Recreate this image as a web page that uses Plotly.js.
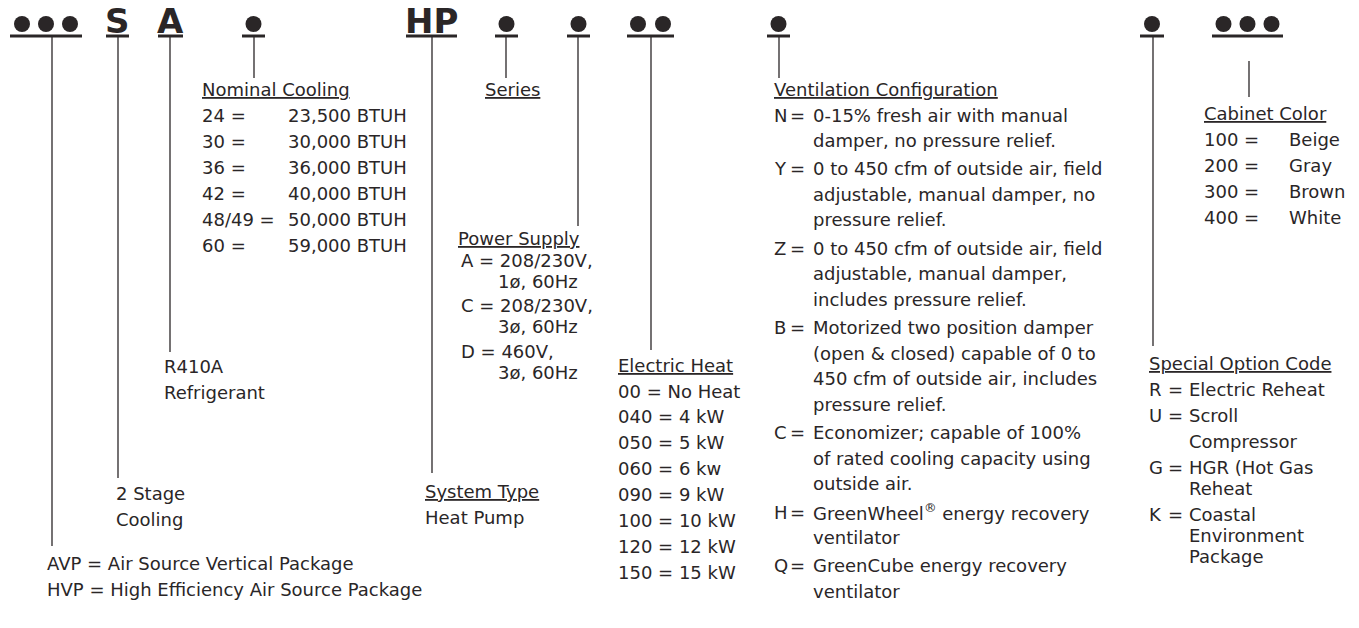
<!DOCTYPE html>
<html>
<head>
<meta charset="utf-8">
<script src="https://cdn.plot.ly/plotly-3.0.1.min.js"></script>
<style>html,body{margin:0;padding:0;background:#fff;}#chart{width:1359px;height:628px;}</style>
</head>
<body>
<div id="chart"></div>
<script>
// ---------- DATA ----------
const headerCodes = ['●●●', 'S', 'A', '●', 'HP', '●', '●', '●●', '●', '●', '●●●'];

const nominalTitle = 'Nominal Cooling';
const nominalCodes = ['24 =', '30 =', '36 =', '42 =', '48/49 =', '60 ='];
const nominalValues = ['23,500 BTUH', '30,000 BTUH', '36,000 BTUH', '40,000 BTUH', '50,000 BTUH', '59,000 BTUH'];

const seriesTitle = 'Series';

const powerTitle = 'Power Supply';
const powerCodes = ['A = 208/230V,', 'C = 208/230V,', 'D = 460V,'];
const powerCont = ['1ø, 60Hz', '3ø, 60Hz', '3ø, 60Hz'];

const refrigerantText = ['R410A', 'Refrigerant'];
const stageText = ['2 Stage', 'Cooling'];
const seriesPrefix = ['AVP = Air Source Vertical Package', 'HVP = High Efficiency Air Source Package'];

const systemTitle = 'System Type';
const systemValue = 'Heat Pump';

const heatTitle = 'Electric Heat';
const heatRows = ['00 = No Heat', '040 = 4 kW', '050 = 5 kW', '060 = 6 kw', '090 = 9 kW', '100 = 10 kW', '120 = 12 kW', '150 = 15 kW'];

const ventTitle = 'Ventilation Configuration';
const ventCodes = ['N', 'Y', 'Z', 'B', 'C', 'H', 'Q'];
const ventDesc = [
  ['0-15% fresh air with manual', 'damper, no pressure relief.'],
  ['0 to 450 cfm of outside air, field', 'adjustable, manual damper, no', 'pressure relief.'],
  ['0 to 450 cfm of outside air, field', 'adjustable, manual damper,', 'includes pressure relief.'],
  ['Motorized two position damper', '(open & closed) capable of 0 to', '450 cfm of outside air, includes', 'pressure relief.'],
  ['Economizer; capable of 100%', 'of rated cooling capacity using', 'outside air.'],
  ['GreenWheel<sup>®</sup> energy recovery', 'ventilator'],
  ['GreenCube energy recovery', 'ventilator']
];

const cabinetTitle = 'Cabinet Color';
const cabinetCodes = ['100 =', '200 =', '300 =', '400 ='];
const cabinetValues = ['Beige', 'Gray', 'Brown', 'White'];

const specialTitle = 'Special Option Code';
const specialCodes = ['R', 'U', 'G', 'K'];
const specialDesc = [
  ['Electric Reheat'],
  ['Scroll', 'Compressor'],
  ['HGR (Hot Gas', 'Reheat'],
  ['Coastal', 'Environment', 'Package']
];

// ---------- LAYOUT (positions / styles) ----------
const INK = '#2a2627';
const FONT = 'DejaVu Sans, Verdana, sans-serif';
const FS = 18;
const segX0 = [10, 106, 158, 242, 406, 495, 567, 627, 767, 1140, 1212];
const segX1 = [82, 129, 183, 265, 457, 518, 590, 674, 790, 1164, 1283];
const leadX = [52, 118, 170, 254, 432, 506, 578, 651, 779, 1153, 1249];
const leadY0 = [37, 37, 37, 37, 37, 37, 37, 37, 37, 37, 61];
const leadY1 = [546, 478, 352, 78, 473, 78, 226, 350, 78, 346, 97];
const specialLineStep = [21, 26, 21, 21];

const shapes = [];
const annotations = [];
const bx = [], by = [];

function txt(x, y, text, opts) {
  opts = opts || {};
  annotations.push({
    x: x, y: y, xref: 'x', yref: 'y', text: text, showarrow: false,
    xanchor: opts.xanchor || 'left', yanchor: 'middle', align: 'left',
    font: {family: FONT, size: opts.size || FS, color: INK, weight: opts.weight || 'normal'}
  });
}

headerCodes.forEach((code, i) => {
  const mid = (segX0[i] + segX1[i]) / 2;
  shapes.push({type: 'line', xref: 'x', yref: 'y', x0: segX0[i], x1: segX1[i], y0: 36, y1: 36,
    line: {color: INK, width: 3}});
  shapes.push({type: 'line', xref: 'x', yref: 'y', x0: leadX[i], x1: leadX[i], y0: leadY0[i], y1: leadY1[i],
    line: {color: INK, width: 1.3}});
  if (code.indexOf('●') >= 0) {
    const n = code.length;
    const sp = n === 2 ? 25 : 24;
    for (let k = 0; k < n; k++) {
      bx.push(mid + (k - (n - 1) / 2) * sp);
      by.push(24);
    }
  } else {
    txt(mid, 21, '<b>' + code + '</b>', {xanchor: 'center', size: 34});
  }
});

// Nominal cooling
txt(200, 89, '<u>' + nominalTitle + '</u>');
nominalCodes.forEach((c, i) => { txt(200, 115 + 26 * i, c); txt(286, 115 + 26 * i, nominalValues[i]); });

// Series
txt(483, 89, '<u>' + seriesTitle + '</u>');

// Power supply
txt(456, 238, '<u>' + powerTitle + '</u>');
powerCodes.forEach((c, i) => { txt(459, 260 + 45.5 * i, c); txt(496, 281 + 45.5 * i, powerCont[i]); });

// Refrigerant, stage, prefix
refrigerantText.forEach((t, i) => txt(162, 366 + 26 * i, t));
stageText.forEach((t, i) => txt(114, 493 + 26 * i, t));
seriesPrefix.forEach((t, i) => txt(45, 563 + 26 * i, t));

// System type
txt(423, 491, '<u>' + systemTitle + '</u>');
txt(423, 517, systemValue);

// Electric heat
txt(616, 365, '<u>' + heatTitle + '</u>');
heatRows.forEach((t, i) => txt(616, 391 + 25.9 * i, t));

// Ventilation
txt(772, 89, '<u>' + ventTitle + '</u>');
let vy = 115;
ventCodes.forEach((c, i) => {
  txt(772, vy, c); txt(797, vy, '=', {xanchor: 'center'});
  ventDesc[i].forEach((line, j) => { txt(811, vy + 25.5 * j, line); });
  vy += 25.5 * ventDesc[i].length + 2.9;
});

// Cabinet color
txt(1202, 113, '<u>' + cabinetTitle + '</u>');
cabinetCodes.forEach((c, i) => { txt(1202, 139 + 26.3 * i, c); txt(1287, 139 + 26.3 * i, cabinetValues[i]); });

// Special option
txt(1147, 363, '<u>' + specialTitle + '</u>');
let sy = 389;
specialCodes.forEach((c, i) => {
  txt(1147, sy, c); txt(1175, sy, '=', {xanchor: 'center'});
  specialDesc[i].forEach((line, j) => { txt(1187, sy + specialLineStep[i] * j, line); });
  sy += specialLineStep[i] * (specialDesc[i].length - 1) + 26;
});

const trace = {
  x: bx, y: by, type: 'scatter', mode: 'markers', hoverinfo: 'skip',
  marker: {size: 16, color: INK, line: {width: 0}}
};

const layout = {
  width: 1359, height: 628,
  margin: {l: 0, r: 0, t: 0, b: 0},
  paper_bgcolor: '#ffffff', plot_bgcolor: '#ffffff',
  showlegend: false,
  xaxis: {range: [0, 1359], visible: false, fixedrange: true},
  yaxis: {range: [628, 0], visible: false, fixedrange: true},
  shapes: shapes,
  annotations: annotations
};

Plotly.newPlot('chart', [trace], layout, {displayModeBar: false, staticPlot: true});
</script>
</body>
</html>
